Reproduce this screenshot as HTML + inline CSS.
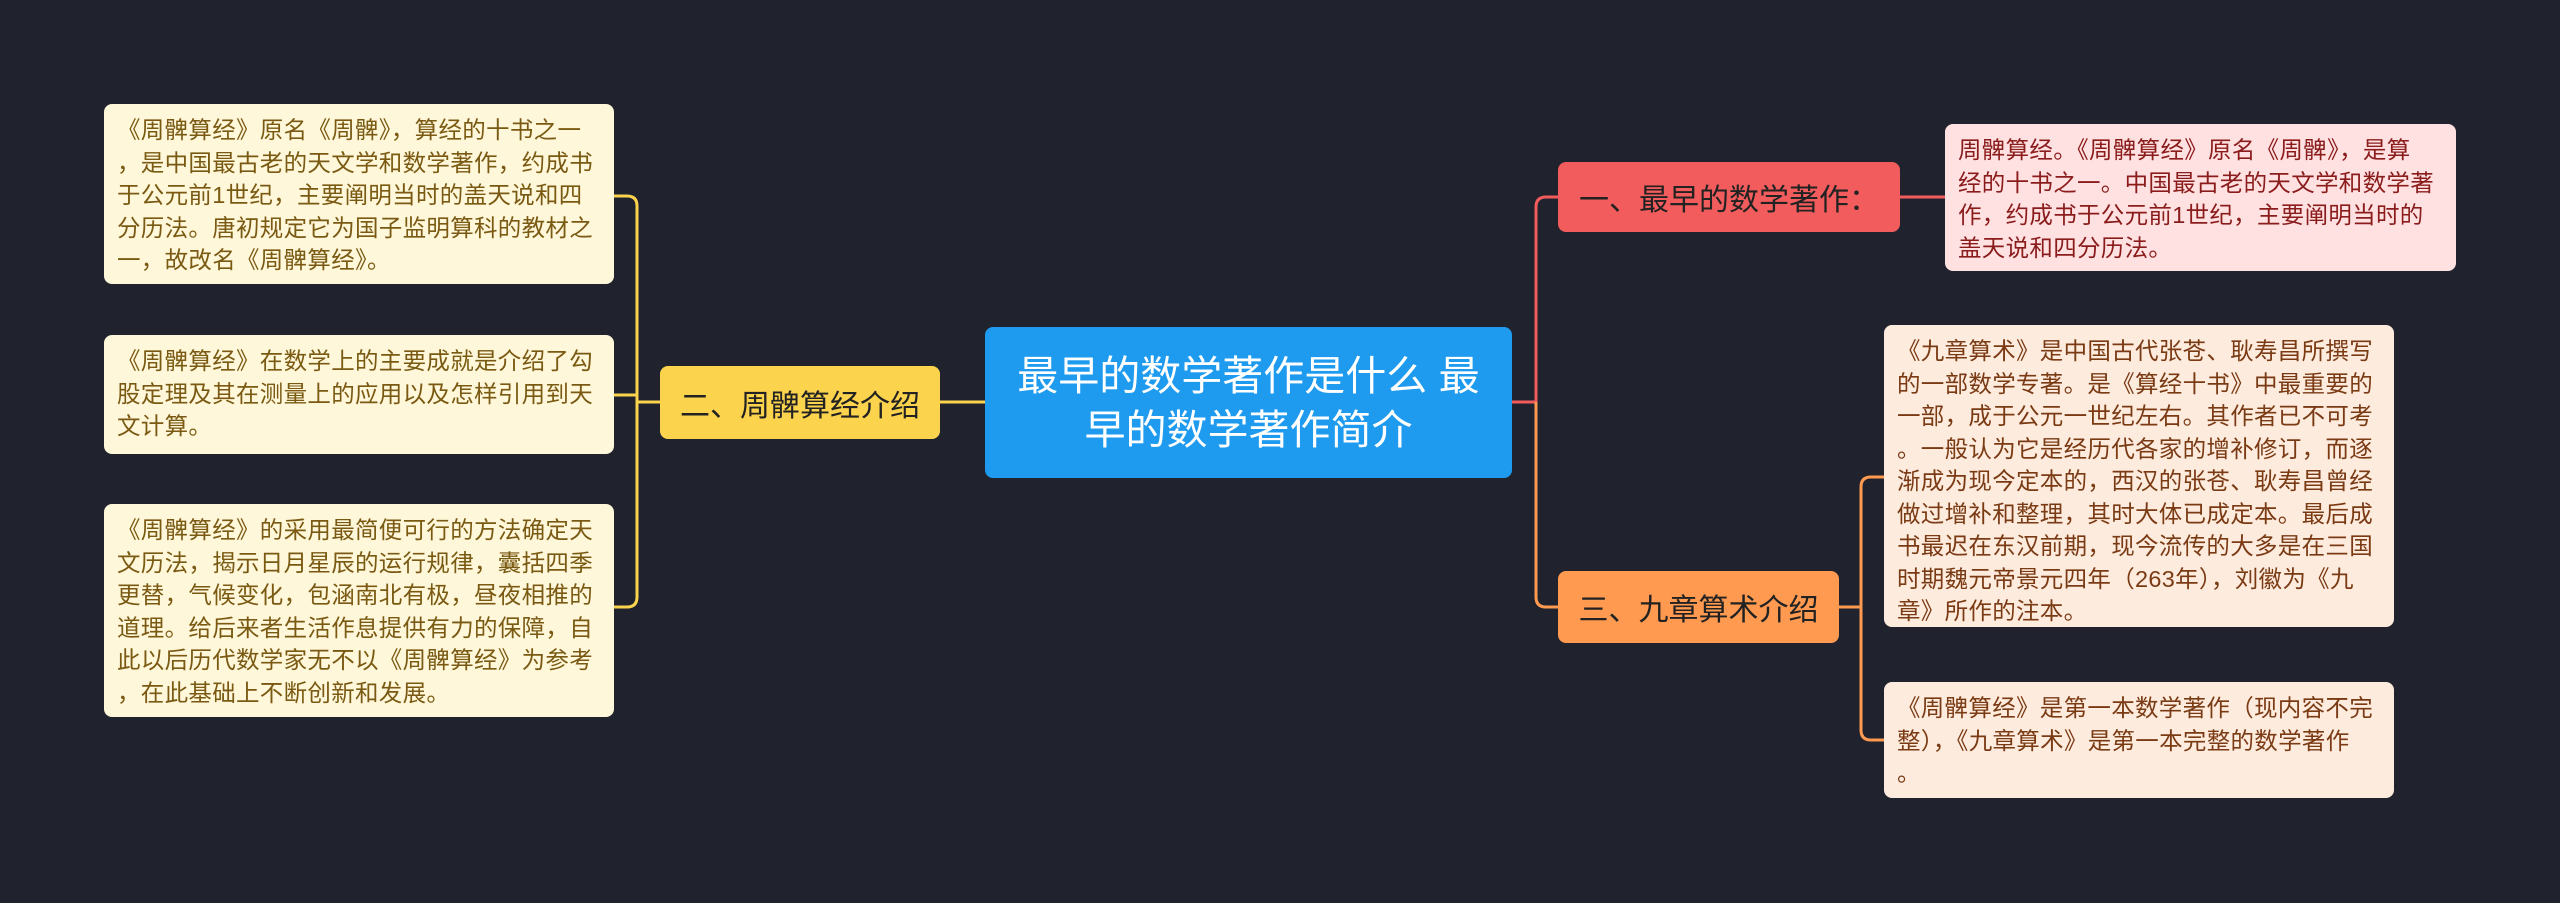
<!DOCTYPE html>
<html><head><meta charset="utf-8"><style>
body{margin:0;width:2560px;height:903px;background:#20232e;position:relative;overflow:hidden;font-family:"Liberation Sans","Noto Sans CJK SC",sans-serif}
.n{position:absolute;box-sizing:border-box;border-radius:8px}
.leaf{font-size:23.5px;line-height:32.5px;padding:10px 13px;white-space:nowrap;letter-spacing:0.3px}
.y{background:#fff7da;color:#7a5a12}
.r{background:#ffe1e1;color:#8a1c1c}
.o{background:#fdebdd;color:#7a3a14}
.br{font-size:30px;display:flex;align-items:center;justify-content:center;color:#222}
</style></head><body>
<svg width="2560" height="903" style="position:absolute;left:0;top:0">
<g fill="none" stroke-width="3">
<path d="M985 402H940" stroke="#fcd34d"/>
<path d="M660 402H637M614 196H627Q637 196 637 206V597Q637 607 627 607H614M614 395H637" stroke="#fcd34d"/>
<path d="M1512 402H1536V207Q1536 197 1546 197H1558" stroke="#f25c5c"/>
<path d="M1536 402V597Q1536 607 1546 607H1558" stroke="#ff9a50"/>
<path d="M1900 197H1945" stroke="#f25c5c"/>
<path d="M1839 607H1861M1884 477H1871Q1861 477 1861 487V730Q1861 740 1871 740H1884" stroke="#ff9a50"/>
</g></svg>
<div class="n" style="left:985px;top:327px;width:527px;height:151px;background:#1e9bef;color:#fff;font-size:41px;line-height:54px;text-align:center;display:flex;align-items:center;justify-content:center">最早的数学著作是什么 最<br>早的数学著作简介</div>
<div class="n br" style="left:660px;top:366px;width:280px;height:73px;background:#fcd34d">二、周髀算经介绍</div>
<div class="n br" style="left:1558px;top:162px;width:342px;height:70px;background:#f25c5c">一、最早的数学著作：</div>
<div class="n br" style="left:1558px;top:571px;width:281px;height:72px;background:#ff9a50">三、九章算术介绍</div>
<div class="n leaf y" style="left:104px;top:104px;width:510px;height:180px">《周髀算经》原名《周髀》，算经的十书之一<br>，是中国最古老的天文学和数学著作，约成书<br>于公元前1世纪，主要阐明当时的盖天说和四<br>分历法。唐初规定它为国子监明算科的教材之<br>一，故改名《周髀算经》。</div>
<div class="n leaf y" style="left:104px;top:335px;width:510px;height:119px">《周髀算经》在数学上的主要成就是介绍了勾<br>股定理及其在测量上的应用以及怎样引用到天<br>文计算。</div>
<div class="n leaf y" style="left:104px;top:504px;width:510px;height:213px">《周髀算经》的采用最简便可行的方法确定天<br>文历法，揭示日月星辰的运行规律，囊括四季<br>更替，气候变化，包涵南北有极，昼夜相推的<br>道理。给后来者生活作息提供有力的保障，自<br>此以后历代数学家无不以《周髀算经》为参考<br>，在此基础上不断创新和发展。</div>
<div class="n leaf r" style="left:1945px;top:124px;width:511px;height:147px">周髀算经。《周髀算经》原名《周髀》，是算<br>经的十书之一。中国最古老的天文学和数学著<br>作，约成书于公元前1世纪，主要阐明当时的<br>盖天说和四分历法。</div>
<div class="n leaf o" style="left:1884px;top:325px;width:510px;height:302px">《九章算术》是中国古代张苍、耿寿昌所撰写<br>的一部数学专著。是《算经十书》中最重要的<br>一部，成于公元一世纪左右。其作者已不可考<br>。一般认为它是经历代各家的增补修订，而逐<br>渐成为现今定本的，西汉的张苍、耿寿昌曾经<br>做过增补和整理，其时大体已成定本。最后成<br>书最迟在东汉前期，现今流传的大多是在三国<br>时期魏元帝景元四年（263年），刘徽为《九<br>章》所作的注本。</div>
<div class="n leaf o" style="left:1884px;top:682px;width:510px;height:116px">《周髀算经》是第一本数学著作（现内容不完<br>整），《九章算术》是第一本完整的数学著作<br>。</div>
</body></html>
